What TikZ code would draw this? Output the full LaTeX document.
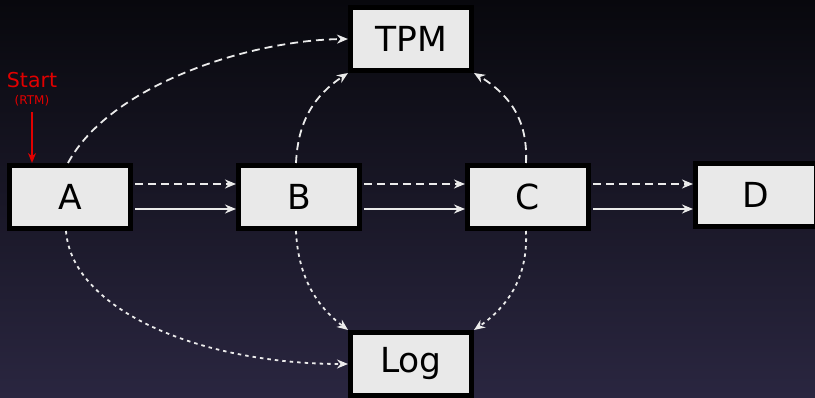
\documentclass[tikz,border=0pt]{standalone}
\usepackage{fontspec}
\setmainfont{DejaVu Sans}
\usetikzlibrary{arrows.meta}
\definecolor{bgtop}{RGB}{8,8,13}
\definecolor{bgbot}{RGB}{42,38,64}
\definecolor{boxfill}{RGB}{233,233,233}
\definecolor{startred}{RGB}{225,0,0}
\tikzset{
  block/.style={draw=black, line width=5pt, fill=boxfill, minimum width=121pt,
    minimum height=63pt, inner sep=0pt, font=\fontsize{34.5}{40}\selectfont},
  flow/.style={draw=white!92!black, line width=1.8pt, -{Stealth[length=11pt,width=9pt]}},
  longdash/.style={flow, dash pattern=on 8pt off 5pt},
  shortdash/.style={flow, dash pattern=on 3.5pt off 4pt},
}
\begin{document}
\begin{tikzpicture}[x=1pt,y=-1pt]
  \useasboundingbox (0,0) rectangle (815,398);
  \shade[top color=bgtop, bottom color=bgbot] (0,0) rectangle (815,398);

  % boxes
  \node[block] (A) at (70,197) {A};
  \node[block] (B) at (299,197) {B};
  \node[block] (C) at (528,197) {C};
  \node[block] (D) at (756,195) {D};
  \node[block] (TPM) at (411,39) {TPM};
  \node[block] (Log) at (411,364) {Log};

  % start marker
  \node[text=startred, font=\fontsize{20.5}{24}\selectfont] (start) at (32,80) {Start};
  \node[text=startred, font=\fontsize{12}{14}\selectfont] (rtm) at (32,101) {(RTM)};
  \coordinate (s0) at (32,112);
  \draw[startred, line width=1.6pt, -{Stealth[length=10pt,width=8pt]}] (s0) -- (s0 |- A.north);

  % straight links: dashed upper, solid lower
  \foreach \u/\v in {A/B, B/C, C/D} {
    \draw[longdash] ([yshift=13pt,xshift=2pt]\u.east) coordinate (p) -- (p -| \v.west);
    \draw[flow] ([yshift=-12pt,xshift=2pt]\u.east) coordinate (q) -- (q -| \v.west);
  }

  % links up to TPM
  \draw[longdash] ([xshift=-2pt]A.north) .. controls (110,85) and (250,40) .. (TPM.west);
  \draw[longdash] ([xshift=-3pt]B.north) .. controls (298,120) and (315,95) .. (TPM.south west);
  \draw[longdash] ([xshift=-2pt]C.north) .. controls (528,120) and (510,95) .. (TPM.south east);

  % links down to Log
  \draw[shortdash] ([xshift=-4pt]A.south) .. controls (72,310) and (200,364) .. (Log.west);
  \draw[shortdash] ([xshift=-3pt]B.south) .. controls (298,275) and (315,305) .. (Log.north west);
  \draw[shortdash] ([xshift=-2pt]C.south) .. controls (528,275) and (510,305) .. (Log.north east);
\end{tikzpicture}
\end{document}
